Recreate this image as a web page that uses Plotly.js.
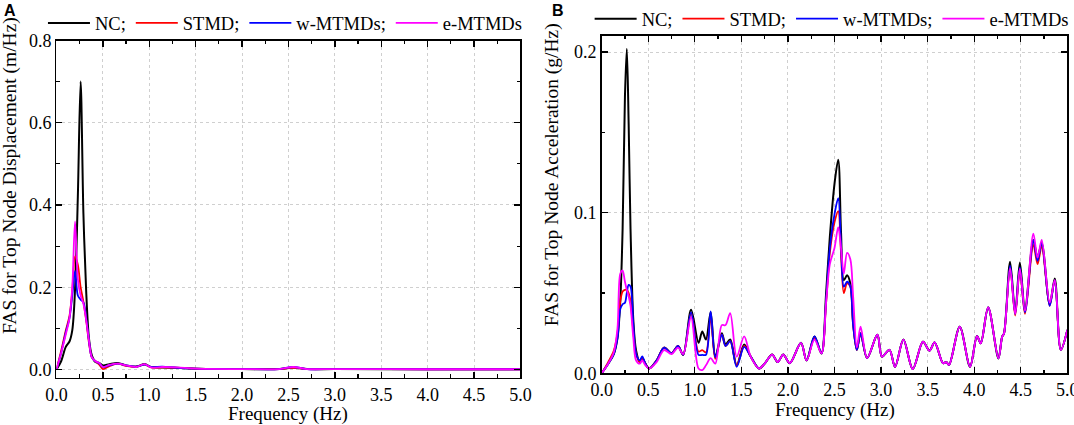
<!DOCTYPE html>
<html>
<head>
<meta charset="utf-8">
<script src="https://cdn.plot.ly/plotly-3.0.1.min.js"></script>
<style>
    html, body { margin: 0; padding: 0; background: #fff; }
    #myDiv { width: 1074px; height: 425px; }
</style>
</head>
<body>
<div id="myDiv"></div>
<script>
/**
 * Panel A: FAS of top node displacement (m/Hz)
 */
var freqA = [0, 0.05, 0.1, 0.14, 0.17, 0.2, 0.23, 0.26, 0.29, 0.32, 0.35, 0.38, 0.42, 0.46, 0.5,
    0.57, 0.66, 0.75, 0.86, 0.95, 1.02, 1.14, 1.3, 1.5, 2.0, 2.4, 2.55, 2.7, 3.0, 4.0, 5.0];
var dispNC = [0, 0.02, 0.055, 0.068, 0.095, 0.195, 0.42, 0.70, 0.38, 0.19, 0.075, 0.035, 0.018, 0.016, 0.01,
    0.013, 0.016, 0.01, 0.007, 0.013, 0.006, 0.005, 0.004, 0.002, 0.001, 0.001, 0.005, 0.001, 0.001, 0.0005, 0.0005];
var dispSTMD = [0, 0.045, 0.095, 0.13, 0.19, 0.275, 0.255, 0.2, 0.165, 0.12, 0.065, 0.03, 0.02, 0.012, 0.001,
    0.008, 0.014, 0.009, 0.007, 0.012, 0.005, 0.005, 0.004, 0.002, 0.001, 0.001, 0.004, 0.001, 0.001, 0.0005, 0.0005];
var dispW = [0, 0.04, 0.09, 0.125, 0.18, 0.24, 0.18, 0.17, 0.163, 0.125, 0.07, 0.03, 0.02, 0.015, 0.006,
    0.01, 0.014, 0.01, 0.007, 0.012, 0.006, 0.007, 0.004, 0.002, 0.001, 0.001, 0.006, 0.001, 0.001, 0.0005, 0.0005];
var dispE = [0, 0.04, 0.085, 0.125, 0.2, 0.36, 0.22, 0.18, 0.16, 0.12, 0.07, 0.03, 0.02, 0.016, 0.006,
    0.011, 0.014, 0.01, 0.006, 0.013, 0.005, 0.006, 0.005, 0.002, 0.001, 0.001, 0.006, 0.001, 0.001, 0.0005, 0.0005];

/**
 * Panel B: FAS of top node acceleration (g/Hz)
 */
var freqB = [0, 0.07, 0.13, 0.17, 0.2, 0.225, 0.25, 0.27, 0.29, 0.31,
    0.34, 0.37, 0.41, 0.435, 0.47, 0.51, 0.59, 0.67, 0.75, 0.82,
    0.875, 0.96, 1.04, 1.08, 1.12, 1.17, 1.22, 1.29, 1.33, 1.38,
    1.45, 1.53, 1.6, 1.69, 1.75, 1.83, 1.89, 1.95, 2.02, 2.14,
    2.2, 2.285, 2.36, 2.41, 2.45, 2.5, 2.54, 2.57, 2.6, 2.635,
    2.67, 2.7, 2.74, 2.78, 2.85, 2.96, 3.01, 3.09, 3.15, 3.24,
    3.34, 3.45, 3.52, 3.575, 3.665, 3.7, 3.73, 3.845, 3.955, 4.03,
    4.07, 4.15, 4.26, 4.3, 4.32, 4.385, 4.44, 4.49, 4.545, 4.635,
    4.68, 4.725, 4.81, 4.865, 4.93, 5.0];
var accNC = [0, 0.006, 0.012, 0.022, 0.045, 0.09, 0.172, 0.202, 0.155, 0.09,
    0.033, 0.014, 0.007, 0.0095, 0.006, 0.003, 0.008, 0.016, 0.0125, 0.017,
    0.0115, 0.0395, 0.019, 0.026, 0.021, 0.038, 0.0104, 0.025, 0.018, 0.021,
    0.005, 0.018, 0.0105, 0.003, 0.006, 0.0117, 0.007, 0.0117, 0.0063, 0.019,
    0.008, 0.023, 0.0124, 0.05, 0.085, 0.118, 0.133, 0.088, 0.058, 0.061,
    0.056, 0.032, 0.0146, 0.025, 0.0095, 0.024, 0.0104, 0.0146, 0.004, 0.021,
    0.0027, 0.0197, 0.0141, 0.0192, 0.0063, 0.007, 0.0052, 0.029, 0.0041, 0.0232,
    0.0187, 0.041, 0.0093, 0.0228, 0.0248, 0.0695, 0.038, 0.069, 0.04, 0.083,
    0.072, 0.081, 0.043, 0.059, 0.0146, 0.027];
var accSTMD = [0, 0.007, 0.014, 0.025, 0.045, 0.051, 0.052, 0.052, 0.05, 0.045,
    0.026, 0.012, 0.007, 0.0095, 0.006, 0.003, 0.008, 0.016, 0.0125, 0.017,
    0.0115, 0.0375, 0.0135, 0.0145, 0.013, 0.035, 0.009, 0.024, 0.017, 0.02,
    0.005, 0.017, 0.0105, 0.003, 0.006, 0.0117, 0.007, 0.0117, 0.0063, 0.019,
    0.008, 0.022, 0.0124, 0.044, 0.075, 0.094, 0.101, 0.075, 0.05, 0.056,
    0.054, 0.03, 0.0146, 0.025, 0.0095, 0.024, 0.0104, 0.0146, 0.004, 0.021,
    0.0027, 0.0197, 0.0141, 0.0192, 0.0063, 0.007, 0.0052, 0.029, 0.0041, 0.0232,
    0.0187, 0.041, 0.0093, 0.0228, 0.0248, 0.066, 0.036, 0.064, 0.037, 0.08,
    0.068, 0.079, 0.042, 0.058, 0.0146, 0.027];
var accW = [0, 0.006, 0.012, 0.022, 0.04, 0.043, 0.044, 0.05, 0.055, 0.054,
    0.03, 0.012, 0.008, 0.0105, 0.006, 0.003, 0.008, 0.016, 0.0125, 0.017,
    0.0115, 0.038, 0.0115, 0.0115, 0.0115, 0.0385, 0.01, 0.024, 0.017, 0.02,
    0.004, 0.0165, 0.0105, 0.003, 0.006, 0.0117, 0.007, 0.0117, 0.0063, 0.019,
    0.008, 0.023, 0.0124, 0.046, 0.078, 0.099, 0.109, 0.08, 0.054, 0.057,
    0.054, 0.03, 0.0146, 0.025, 0.0095, 0.024, 0.0104, 0.0146, 0.004, 0.021,
    0.0027, 0.0197, 0.0141, 0.0192, 0.0063, 0.007, 0.0052, 0.029, 0.0041, 0.0232,
    0.0187, 0.041, 0.0093, 0.0228, 0.0248, 0.067, 0.037, 0.066, 0.038, 0.083,
    0.07, 0.081, 0.042, 0.058, 0.0146, 0.027];
var accE = [0, 0.006, 0.013, 0.028, 0.062, 0.064, 0.057, 0.052, 0.048, 0.042,
    0.022, 0.008, 0.006, 0.008, 0.005, 0.003, 0.007, 0.0145, 0.012, 0.016,
    0.012, 0.035, 0.003, 0.002, 0.005, 0.0094, 0.006, 0.03, 0.03, 0.0375,
    0.0104, 0.023, 0.0104, 0.003, 0.006, 0.0117, 0.007, 0.0117, 0.0063, 0.019,
    0.008, 0.021, 0.0124, 0.044, 0.068, 0.078, 0.091, 0.078, 0.062, 0.075,
    0.071, 0.048, 0.016, 0.029, 0.0095, 0.024, 0.0104, 0.0146, 0.004, 0.021,
    0.0027, 0.0197, 0.0141, 0.0192, 0.0063, 0.007, 0.0052, 0.029, 0.0041, 0.0232,
    0.0187, 0.041, 0.0093, 0.0228, 0.0248, 0.0655, 0.037, 0.065, 0.039, 0.087,
    0.072, 0.083, 0.044, 0.058, 0.0146, 0.027];

var names = ['NC;', 'STMD;', 'w-MTMDs;', 'e-MTMDs'];
var colors = ['rgb(0, 0, 0)', 'rgb(255, 0, 0)', 'rgb(0, 0, 255)', 'rgb(255, 0, 255)'];
var widths = [2, 1.8, 1.8, 1.8];

var serif = 'Liberation Serif, Times New Roman, serif';

function makeTrace(x, y, i, xa, ya, leg) {
    return {
        type: 'scatter',
        mode: 'lines',
        x: x,
        y: y,
        name: names[i],
        xaxis: xa,
        yaxis: ya,
        legend: leg,
        line: { color: colors[i], width: widths[i], shape: 'spline', smoothing: 0.9 }
    };
}

var dataA = [dispNC, dispSTMD, dispW, dispE];
var dataB = [accNC, accSTMD, accW, accE];
var data = [];
for (var i = 0; i < 4; i++) {
    data.push(makeTrace(freqA, dataA[i], i, 'x', 'y', 'legend'));
}
for (var j = 0; j < 4; j++) {
    data.push(makeTrace(freqB, dataB[j], j, 'x2', 'y2', 'legend2'));
}

function axis(domain, range, dtick, minor, anchor) {
    return {
        domain: domain,
        range: range,
        anchor: anchor,
        dtick: dtick,
        tick0: 0,
        tickformat: '.1f',
        ticks: 'inside',
        ticklen: 6,
        tickwidth: 1.3,
        tickcolor: '#000',
        showline: true,
        linecolor: '#000',
        linewidth: 1.5,
        mirror: 'allticks',
        showgrid: true,
        gridcolor: '#cfcfcf',
        griddash: 'dot',
        gridwidth: 1,
        zeroline: false,
        ticklabeloverflow: 'allow',
        tickfont: { family: serif, size: 18, color: '#000' },
        minor: { ticks: 'inside', dtick: minor, ticklen: 3.5, tickwidth: 1.2, tickcolor: '#000', showgrid: false }
    };
}

var legendBase = {
    orientation: 'h',
    xanchor: 'left',
    yanchor: 'middle',
    bgcolor: 'rgba(0,0,0,0)',
    font: { family: serif, size: 18.5, color: '#000' },
    itemwidth: 42
};

function note(text, x, y, size, angle, family) {
    return {
        text: text, x: x, y: y, xref: 'paper', yref: 'paper',
        xanchor: 'center', yanchor: 'middle', showarrow: false, textangle: angle || 0,
        font: { family: family || serif, size: size, color: '#000' }
    };
}

var layout = {
    width: 1074,
    height: 425,
    margin: { l: 0, r: 0, t: 0, b: 0 },
    font: { family: serif, size: 18, color: '#000' },
    paper_bgcolor: '#fff',
    plot_bgcolor: '#fff',
    xaxis: axis([0.0526, 0.4846], [0, 5], 0.5, 0.25, 'y'),
    yaxis: axis([0.1113, 0.9047], [-0.02, 0.8], 0.2, 0.1, 'x'),
    xaxis2: axis([0.5602, 0.9938], [0, 5], 0.5, 0.25, 'y2'),
    yaxis2: axis([0.1216, 0.9153], [0, 0.21], 0.1, 0.05, 'x2'),
    legend: Object.assign({}, legendBase, { x: 0.040, y: 0.945 }),
    legend2: Object.assign({}, legendBase, { x: 0.549, y: 0.955 }),
    annotations: [
        note('<b>A</b>', 0.0093, 0.976, 16, 0, 'Liberation Sans, Arial, sans-serif'),
        note('<b>B</b>', 0.5196, 0.976, 16, 0, 'Liberation Sans, Arial, sans-serif'),
        note('FAS for Top Node Displacement (m/Hz)', 0.0093, 0.588, 19.5, -90),
        note('FAS for Top Node Acceleration (g/Hz)', 0.514, 0.588, 19.5, -90),
        note('Frequency (Hz)', 0.2686, 0.0259, 19),
        note('Frequency (Hz)', 0.7775, 0.0353, 19)
    ]
};

Plotly.newPlot('myDiv', data, layout, { displayModeBar: false, staticPlot: true });
</script>
</body>
</html>
